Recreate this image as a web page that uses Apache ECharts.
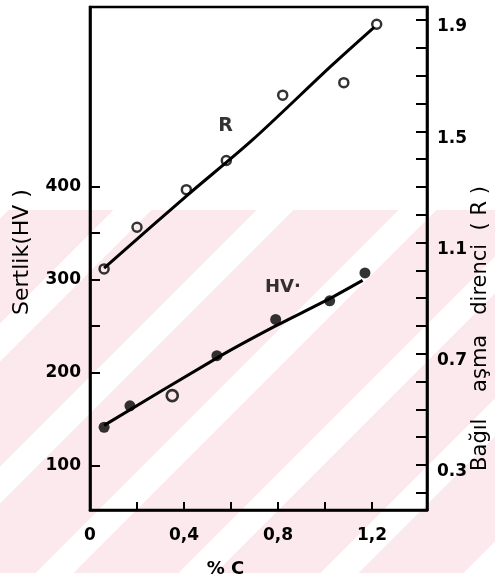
<!DOCTYPE html>
<html><head><meta charset="utf-8">
<script src="https://cdn.jsdelivr.net/npm/echarts@6/dist/echarts.min.js"></script>
<style>
html,body{margin:0;padding:0;background:#fff;}
#wm{position:absolute;left:0;top:210px;width:495px;height:363px;
background:repeating-linear-gradient(135deg,#ffffff 0px,#ffffff 6.3px,#fce9ed 6.3px,#fce9ed 80.3px,#ffffff 80.3px,#ffffff 100.76px);}
#c{position:absolute;left:0;top:0;width:495px;height:585px;}
</style></head><body>
<div id="wm"></div><div id="c"></div>
<script>
// ---- data ----
const rX = [0.06, 0.20, 0.41, 0.58, 0.82, 1.08, 1.22];
const rY = [1.005, 1.155, 1.29, 1.395, 1.63, 1.675, 1.885];
const hvX = [0.06, 0.17, 0.35, 0.54, 0.79, 1.02, 1.17];
const hvY = [141, 164, 175, 218, 257, 277, 307];
const rFitX = [0.06, 0.41, 0.69, 1.03, 1.21];
const rFitY = [1.008, 1.267, 1.468, 1.738, 1.875];
const hvFitX = [0.06, 0.55, 0.79, 1.01, 1.16];
const hvFitY = [143, 217, 250, 278, 299];
// ---- ticks and tick labels ----
const xTickVals = [0.2, 0.4, 0.6, 0.8, 1.0, 1.2];
const xLabelVals = [0, 0.4, 0.8, 1.2];
const hvTickVals = [100, 200, 250, 300, 350, 400];
const hvLabelVals = [100, 200, 300, 400];
const rTickVals = [0.2,0.3,0.4,0.5,0.6,0.7,0.8,0.9,1.0,1.1,1.2,1.3,1.4,1.5,1.6,1.7,1.8,1.9];
const rLabelVals = [0.3, 0.7, 1.1, 1.5, 1.9];

const FONT = 'DejaVu Sans';
const INK = '#000000';
const pairs = (xs, ys) => xs.map((x, i) => [x, ys[i]]);

const chart = echarts.init(document.getElementById('c'), null, {renderer: 'canvas'});
const hvPts = pairs(hvX, hvY).map((p, i) => i === 2
  ? {value: p, itemStyle: {color: 'rgba(0,0,0,0)', borderColor: INK, borderWidth: 2.6}}
  : p);

const tickFont = {color: INK, fontFamily: FONT, fontSize: 17, fontWeight: 'bold'};

chart.setOption({
  animation: false,
  grid: {left: 90, right: 68, top: 7, bottom: 75, show: true, borderColor: INK, borderWidth: 2.6,
         backgroundColor: 'transparent', outerBoundsMode: 'none'},
  xAxis: {
    type: 'value', min: 0, max: 1.434,
    axisLine: {lineStyle: {color: INK, width: 2.6}},
    axisTick: {inside: true, length: 8, customValues: xTickVals, lineStyle: {color: INK, width: 2}},
    axisLabel: Object.assign({customValues: xLabelVals, margin: 17,
      formatter: v => v === 0 ? '0' : v.toFixed(1).replace('.', ',')}, tickFont),
    splitLine: {show: false},
    name: '% C', nameLocation: 'middle', nameGap: 50,
    nameTextStyle: {color: INK, fontFamily: FONT, fontSize: 18, fontWeight: 'bold', padding: [0, 66, 0, 0]}
  },
  yAxis: [{
    type: 'value', position: 'left', min: 52, max: 593,
    axisLine: {show: true, lineStyle: {color: INK, width: 2.6}},
    axisTick: {show: true, inside: true, length: 10, customValues: hvTickVals, lineStyle: {color: INK, width: 2}},
    axisLabel: Object.assign({customValues: hvLabelVals, margin: 9}, tickFont),
    splitLine: {show: false},
    name: 'Sertlik(HV )', nameLocation: 'middle', nameRotate: 90, nameGap: 57,
    nameTextStyle: {color: INK, fontFamily: FONT, fontSize: 22, padding: [0, 0, 0, 13]}
  }, {
    type: 'value', position: 'right', min: 0.138, max: 1.947,
    axisLine: {show: true, lineStyle: {color: INK, width: 2.6}},
    axisTick: {show: true, inside: true, length: 11, customValues: rTickVals, lineStyle: {color: INK, width: 2}},
    axisLabel: Object.assign({customValues: rLabelVals, margin: 10, verticalAlign: 'top', lineHeight: 14,
      formatter: v => v.toFixed(1)}, tickFont),
    splitLine: {show: false},
    name: 'Bağıl    aşma   direnci  ( R )', nameLocation: 'middle', nameRotate: 90, nameGap: 43,
    nameMoveOverlap: false,
    nameTextStyle: {color: INK, fontFamily: FONT, fontSize: 21, padding: [0, 140, 0, 0]}
  }],
  series: [
    {type: 'line', yAxisIndex: 1, data: pairs(rFitX, rFitY), smooth: 0.3, symbol: 'none',
     lineStyle: {color: INK, width: 3}, z: 2},
    {type: 'line', yAxisIndex: 0, data: pairs(hvFitX, hvFitY), smooth: 0.2, symbol: 'none',
     lineStyle: {color: INK, width: 3}, z: 2},
    {type: 'scatter', yAxisIndex: 1, data: pairs(rX, rY), symbol: 'circle', symbolSize: 9,
     itemStyle: {color: 'rgba(0,0,0,0)', borderColor: INK, borderWidth: 2.5}, z: 3},
    {type: 'scatter', yAxisIndex: 0, data: hvPts, symbol: 'circle', symbolSize: 11,
     itemStyle: {color: INK}, z: 3},
    {type: 'scatter', yAxisIndex: 1, data: [[0.577, 1.52]], symbolSize: 0, silent: true,
     label: {show: true, position: 'inside', formatter: 'R', color: INK, fontFamily: FONT, fontSize: 19, fontWeight: 'bold'}, z: 4},
    {type: 'scatter', yAxisIndex: 0, data: [[0.821, 291]], symbolSize: 0, silent: true,
     label: {show: true, position: 'inside', formatter: 'HV·', color: INK, fontFamily: FONT, fontSize: 18, fontWeight: 'bold'}, z: 4}
  ]
});
</script></body></html>
